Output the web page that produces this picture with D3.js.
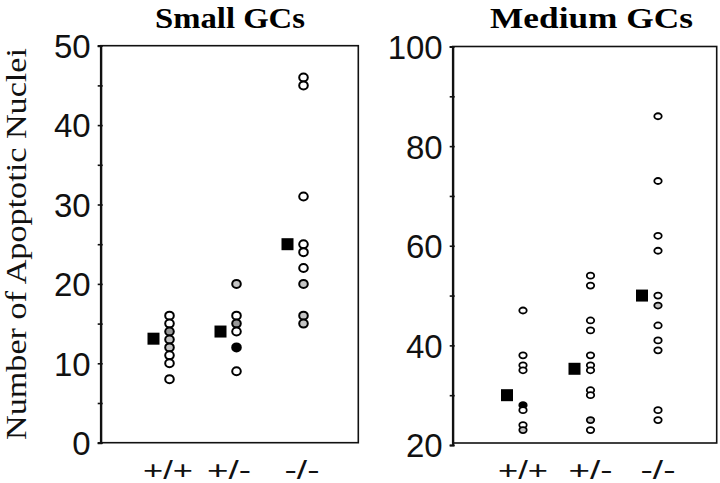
<!DOCTYPE html>
<html>
<head>
<meta charset="utf-8">
<script src="https://cdn.jsdelivr.net/npm/d3@7"></script>
<style>
  html, body { margin: 0; padding: 0; background: #fff; }
  svg { display: block; }
</style>
</head>
<body>
<svg id="chart" width="720" height="483"></svg>
<script>
// ---------- data ----------
const genotypes = ["+/+", "+/-", "-/-"];

const smallValues = [
  [16, 15, 14, 13, 12, 11, 10, 8],
  [20, 16, 15, 14, 12, 9],
  [46, 45, 31, 25, 24, 22, 20, 16, 15]
];
// o = open, g = light grey, d = darker grey, b = black
const smallFills = [
  ["o", "o", "d", "g", "g", "o", "o", "o"],
  ["g", "o", "d", "o", "b", "o"],
  ["o", "o", "o", "o", "o", "o", "g", "g", "g"]
];
const smallMeans = [13.1, 14, 25];

const mediumValues = [
  [47, 38, 36, 35, 28, 27, 24, 23],
  [54, 52, 45, 43, 38, 36, 35, 31, 30, 25, 23],
  [86, 73, 62, 59, 50, 48, 44, 41, 39, 27, 25]
];
const mediumFills = [
  ["o", "o", "o", "o", "b", "o", "o", "g"],
  ["o", "o", "o", "o", "o", "o", "o", "o", "o", "g", "o"],
  ["o", "o", "o", "o", "o", "g", "o", "o", "o", "o", "o"]
];
const mediumMeans = [30, 35.3, 50];

const smallMajorTicks = [0, 10, 20, 30, 40, 50];
const smallMinorTicks = [5, 15, 25, 35, 45];
const mediumMajorTicks = [20, 40, 60, 80, 100];
const mediumMinorTicks = [30, 50, 70, 90];

const titles = ["Small GCs", "Medium GCs"];
const yTitle = "Number of Apoptotic Nuclei";

// ---------- drawing ----------
const svg = d3.select("#chart");
const fillColor = { o: "#ffffff", g: "#c4c4c4", d: "#979797", b: "#000000" };

const panels = [
  {
    title: titles[0], titleX: 230, titleLen: 150,
    left: 100.7, right: 358.3, top: 45.7, bottom: 442.7,
    domain: [0, 50], yRange: [442.7, 45.7],
    xRange: [169.5, 303.5],
    values: smallValues, fills: smallFills, means: smallMeans,
    major: smallMajorTicks, minor: smallMinorTicks,
    rx: 4.3, ry: 4.0, sw: 2,
    labelPos: [168, 229, 302]
  },
  {
    title: titles[1], titleX: 591.5, titleLen: 203,
    left: 452.7, right: 716.7, top: 46.5, bottom: 443,
    domain: [20, 100], yRange: [445, 46.5],
    xRange: [523, 658],
    values: mediumValues, fills: mediumFills, means: mediumMeans,
    major: mediumMajorTicks, minor: mediumMinorTicks,
    rx: 3.7, ry: 3.0, sw: 1.8,
    labelPos: null
  }
];

const xLabelLens = { "+/+": 50, "+/-": 44, "-/-": 35 };

panels.forEach(p => {
  const y = d3.scaleLinear().domain(p.domain).range(p.yRange);
  const x = d3.scalePoint().domain(genotypes).range(p.xRange);
  const g = svg.append("g");

  // frame
  g.append("rect")
    .attr("x", p.left).attr("y", p.top)
    .attr("width", p.right - p.left).attr("height", p.bottom - p.top)
    .attr("fill", "none").attr("stroke", "#111").attr("stroke-width", 1.6);

  // y axis
  const allTicks = p.major.concat(p.minor).sort((a, b) => a - b);
  const axis = d3.axisLeft(y)
    .tickValues(allTicks)
    .tickSize(3)
    .tickPadding(7)
    .tickFormat(d => p.major.includes(d) ? d : "");
  const ax = g.append("g")
    .attr("transform", `translate(${p.left},0)`)
    .call(axis);
  ax.select(".domain").attr("stroke", "#111").attr("stroke-width", 2.2);
  ax.selectAll(".tick line").attr("stroke", "#111").attr("stroke-width", 1.6)
    .attr("x1", 2);
  ax.selectAll(".tick text")
    .attr("font-family", "'Liberation Sans', Arial, sans-serif")
    .attr("font-size", 33)
    .attr("fill", "#111")
    .attr("dy", "0.36em");

  // title
  svg.append("text")
    .attr("x", p.titleX).attr("y", 28)
    .attr("text-anchor", "middle")
    .attr("font-family", "'Liberation Serif', 'Times New Roman', serif")
    .attr("font-weight", "bold")
    .attr("font-size", 30)
    .attr("textLength", p.titleLen)
    .attr("lengthAdjust", "spacingAndGlyphs")
    .text(p.title);

  // x labels
  genotypes.forEach((gt, i) => {
    svg.append("text")
      .attr("x", p.labelPos ? p.labelPos[i] : x(gt))
      .attr("y", 479)
      .attr("text-anchor", "middle")
      .attr("font-family", "'Liberation Sans', Arial, sans-serif")
      .attr("font-size", 25)
      .attr("fill", "#111")
      .attr("textLength", xLabelLens[gt])
      .attr("lengthAdjust", "spacingAndGlyphs")
      .text(gt);
  });

  // points
  p.values.forEach((vals, i) => {
    const pts = vals.map((v, j) => ({ v, f: p.fills[i][j] }));
    g.selectAll(null).data(pts).enter().append("ellipse")
      .attr("cx", x(genotypes[i]))
      .attr("cy", d => y(d.v))
      .attr("rx", p.rx).attr("ry", p.ry)
      .attr("fill", d => fillColor[d.f])
      .attr("stroke", "#000")
      .attr("stroke-width", p.sw);
  });

  // means (squares)
  const sq = 12;
  g.selectAll(null).data(p.means).enter().append("rect")
    .attr("x", (d, i) => x(genotypes[i]) - 16 - sq / 2)
    .attr("y", d => y(d) - sq / 2)
    .attr("width", sq).attr("height", sq)
    .attr("fill", "#000");
});

// y axis title
svg.append("text")
  .attr("transform", "translate(26,244) rotate(-90)")
  .attr("text-anchor", "middle")
  .attr("font-family", "'Liberation Serif', 'Times New Roman', serif")
  .attr("font-size", 29)
  .attr("fill", "#111")
  .attr("textLength", 392)
  .attr("lengthAdjust", "spacingAndGlyphs")
  .text(yTitle);
</script>
</body>
</html>
